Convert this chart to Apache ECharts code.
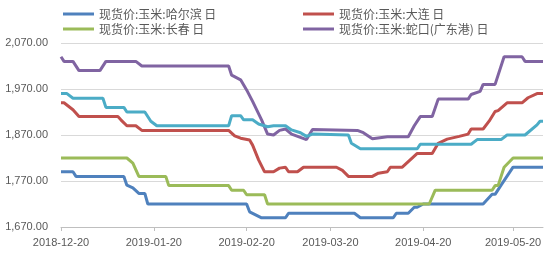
<!DOCTYPE html>
<html><head><meta charset="utf-8">
<script src="https://cdn.jsdelivr.net/npm/echarts@6/dist/echarts.min.js"></script>
<style>html,body{margin:0;padding:0;background:#fff}#c{width:550px;height:272px}</style>
</head><body><div id="c"></div>
<script>
// Names
const seriesNames = ['现货价:玉米:哈尔滨 日','现货价:玉米:大连 日','现货价:玉米:长春 日','现货价:玉米:蛇口(广东港) 日','现货价:玉米:其他 日'];
// X range and tick labels
const startDate = '2018-12-20';
const endDate = '2019-05-30';
const tickLabels = ['2018-12-20','2019-01-20','2019-02-20','2019-03-20','2019-04-20','2019-05-20'];
const yTicks = [1670, 1770, 1870, 1970, 2070];

// Series values as [date, value] (read at change points)
const harbin = [['2018-12-20',1790],['2018-12-24',1790],['2018-12-25',1780],['2019-01-10',1780],['2019-01-11',1761],['2019-01-13',1755],['2019-01-15',1743],['2019-01-17',1743],['2019-01-18',1720],['2019-02-20',1720],['2019-02-21',1703],['2019-02-25',1690],['2019-03-05',1690],['2019-03-06',1700],['2019-03-28',1700],['2019-03-30',1690],['2019-04-10',1690],['2019-04-11',1700],['2019-04-15',1700],['2019-04-17',1713],['2019-04-18',1713],['2019-04-20',1720],['2019-05-10',1720],['2019-05-13',1741],['2019-05-14',1741],['2019-05-16',1761],['2019-05-20',1800],['2019-05-30',1800]];
const dalian = [['2018-12-20',1940],['2018-12-21',1940],['2018-12-24',1925],['2018-12-26',1910],['2019-01-08',1910],['2019-01-09',1903],['2019-01-11',1890],['2019-01-14',1890],['2019-01-16',1880],['2019-02-14',1880],['2019-02-16',1868],['2019-02-18',1863],['2019-02-21',1859],['2019-02-22',1848],['2019-02-24',1816],['2019-02-26',1790],['2019-03-01',1790],['2019-03-03',1798],['2019-03-05',1800],['2019-03-06',1790],['2019-03-09',1790],['2019-03-11',1800],['2019-03-22',1800],['2019-03-24',1793],['2019-03-26',1780],['2019-04-03',1780],['2019-04-05',1787],['2019-04-08',1790],['2019-04-09',1800],['2019-04-13',1800],['2019-04-15',1812],['2019-04-18',1830],['2019-04-23',1830],['2019-04-25',1852],['2019-04-28',1861],['2019-05-02',1867],['2019-05-05',1872],['2019-05-06',1883],['2019-05-10',1883],['2019-05-12',1900],['2019-05-14',1921],['2019-05-15',1923],['2019-05-18',1940],['2019-05-23',1940],['2019-05-25',1951],['2019-05-28',1960],['2019-05-30',1960]];
const changchun = [['2018-12-20',1820],['2019-01-11',1820],['2019-01-13',1809],['2019-01-15',1780],['2019-01-24',1780],['2019-01-25',1760],['2019-02-14',1760],['2019-02-15',1750],['2019-02-19',1750],['2019-02-20',1740],['2019-02-26',1740],['2019-02-27',1720],['2019-04-22',1720],['2019-04-24',1750],['2019-05-13',1750],['2019-05-14',1760],['2019-05-15',1760],['2019-05-17',1800],['2019-05-20',1820],['2019-05-30',1820]];
const shekou = [['2018-12-20',2040],['2018-12-21',2030],['2018-12-24',2030],['2018-12-26',2010],['2019-01-02',2010],['2019-01-04',2030],['2019-01-14',2030],['2019-01-16',2020],['2019-02-14',2020],['2019-02-15',2000],['2019-02-18',1990],['2019-02-20',1968],['2019-02-22',1943],['2019-02-25',1903],['2019-02-27',1872],['2019-03-01',1870],['2019-03-03',1880],['2019-03-05',1883],['2019-03-07',1872],['2019-03-12',1860],['2019-03-14',1882],['2019-03-29',1880],['2019-03-31',1875],['2019-04-03',1862],['2019-04-08',1866],['2019-04-15',1866],['2019-04-17',1890],['2019-04-19',1910],['2019-04-23',1910],['2019-04-25',1948],['2019-05-05',1948],['2019-05-06',1958],['2019-05-09',1965],['2019-05-10',1980],['2019-05-14',1980],['2019-05-17',2040],['2019-05-23',2040],['2019-05-24',2030],['2019-05-30',2030]];
const other = [['2018-12-20',1960],['2018-12-22',1960],['2018-12-24',1950],['2019-01-03',1950],['2019-01-04',1930],['2019-01-10',1930],['2019-01-11',1920],['2019-01-17',1920],['2019-01-19',1900],['2019-01-21',1890],['2019-02-14',1890],['2019-02-15',1912],['2019-02-18',1912],['2019-02-19',1903],['2019-02-22',1903],['2019-02-24',1894],['2019-02-27',1888],['2019-03-01',1890],['2019-03-05',1890],['2019-03-07',1881],['2019-03-10',1875],['2019-03-12',1867],['2019-03-14',1872],['2019-03-26',1870],['2019-03-27',1852],['2019-03-30',1840],['2019-04-18',1840],['2019-04-19',1850],['2019-05-06',1850],['2019-05-08',1860],['2019-05-16',1860],['2019-05-18',1870],['2019-05-24',1870],['2019-05-28',1892],['2019-05-29',1900],['2019-05-30',1900]];

const colors = ['#4F81BD','#C0504D','#9BBB59','#8064A2','#4BACC6'];

// build daily categories
const dates = [];
(function(){
  const pad = n => (n < 10 ? '0' : '') + n;
  let d = new Date(startDate + 'T00:00:00Z');
  const e = new Date(endDate + 'T00:00:00Z');
  while (d <= e) {
    dates.push(d.getUTCFullYear() + '-' + pad(d.getUTCMonth() + 1) + '-' + pad(d.getUTCDate()));
    d = new Date(d.getTime() + 86400000);
  }
})();
const toIdx = arr => arr.map(p => [dates.indexOf(p[0]), p[1]]);
const all = [harbin, dalian, changchun, shekou, other];
const isTick = v => tickLabels.indexOf(v) >= 0;

const chart = echarts.init(document.getElementById('c'));
const legendText = {color:'#595959', fontSize:12, lineHeight:14, fontFamily:'"Noto Sans CJK SC", sans-serif'};
chart.setOption({
  animation: false,
  grid: {left: 61, right: 7, top: 43, bottom: 45},
  legend: [
    {data:[seriesNames[0], seriesNames[2]], orient:'vertical', left:63, top:7, padding:0, itemWidth:31, itemHeight:3, itemGap:1, icon:'rect', textStyle:legendText},
    {data:[seriesNames[1], seriesNames[3]], orient:'vertical', left:303, top:7, padding:0, itemWidth:31, itemHeight:3, itemGap:1, icon:'rect', textStyle:legendText}
  ],
  xAxis: {
    type:'category', data: dates, boundaryGap:false,
    axisLine:{lineStyle:{color:'#BFBFBF'}},
    axisTick:{interval:(i, v) => isTick(v), length:4, lineStyle:{color:'#BFBFBF'}},
    axisLabel:{interval:(i, v) => isTick(v), color:'#595959', fontSize:11, fontFamily:'"Liberation Sans", Arial', margin:10},
    splitLine:{show:false}
  },
  yAxis: {
    type:'value', min: yTicks[0], max: yTicks[yTicks.length-1], interval: 100,
    axisLine:{show:false}, axisTick:{show:false},
    axisLabel:{color:'#595959', fontSize:11, fontFamily:'"Liberation Sans", Arial', margin:13,
      formatter: v => v.toLocaleString('en-US', {minimumFractionDigits:2, maximumFractionDigits:2})},
    splitLine:{lineStyle:{color:'#D9D9D9'}}
  },
  series: all.map((arr, i) => ({
    name: seriesNames[i], type:'line', data: toIdx(arr), symbol:'none',
    lineStyle:{width:3, color: colors[i]}, itemStyle:{color: colors[i]}
  }))
});
</script></body></html>
